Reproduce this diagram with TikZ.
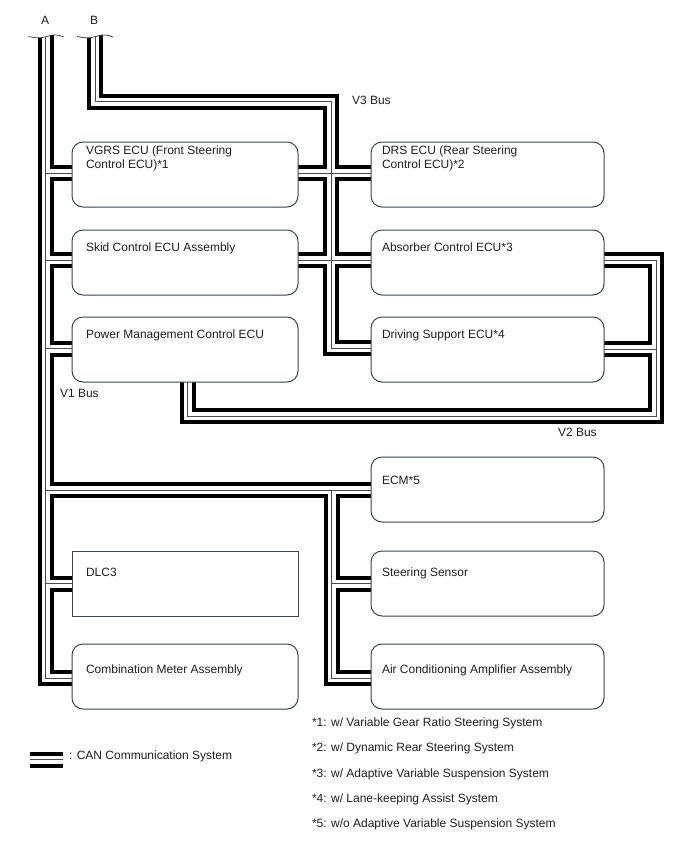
\documentclass[tikz,border=0pt]{standalone}
\usepackage{fontspec}
\setmainfont{Liberation Sans}
\usetikzlibrary{backgrounds}
\definecolor{inktext}{HTML}{1F1F1F}
\definecolor{boxedge}{HTML}{3C444C}
\tikzset{
  x=1pt, y=-1pt,
  every node/.style={inner sep=0pt, outer sep=0pt, text=inktext, font=\fontsize{12}{14}\selectfont},
  ecu/.style={draw=boxedge, line width=1pt, fill=white, rounded corners=11pt, anchor=north west, minimum height=65pt, minimum width=#1},
  ecu/.default=226pt,
  plainbox/.style={draw=boxedge, line width=1pt, fill=white, anchor=north west, minimum height=65pt, minimum width=226pt},
  txt/.style={anchor=base west},
  txttwo/.style={anchor=north west, align=left},
  canouter/.style={draw=black, line width=16pt, miter limit=10},
  caninner/.style={draw=white, line width=8pt, miter limit=10},
  cancentre/.style={draw=black!70, line width=0.8pt},
  breakline/.style={draw=black!80, line width=0.7pt}
}
% All CAN cable runs; drawn once per layer so junctions merge cleanly
\newcommand{\canroutes}[1]{%
  % V1 bus, line A
  \draw[#1] (topA) -- (cornerA) -- (combo.west |- cornerA);
  \draw[#1] (jA1) -- (vgrs.west |- jA1);
  \draw[#1] (jA2) -- (skid.west |- jA2);
  \draw[#1] (jA3) -- (pmc.west |- jA3);
  \draw[#1] (jA4) -- (ecm.west |- jA4);
  \draw[#1] (jA5) -- (dlc.west |- jA5);
  % V1 bus, branch to the lower right column
  \draw[#1] (jE1) -- (cornerE) -- (aircon.west |- cornerE);
  \draw[#1] (jE2) -- (steer.west |- jE2);
  % V3 bus, line B
  \draw[#1] (topB) -- (cornerB1) -- (cornerB2) -- (cornerB3) -- (drive.west |- cornerB3);
  \draw[#1] (vgrs.east |- jB1) -- (drs.west |- jB1);
  \draw[#1] (skid.east |- jB2) -- (absorb.west |- jB2);
  % V2 bus
  \draw[#1] (pmc.south -| cornerV1) -- (cornerV1) -- (cornerV2) -- (cornerV3) -- (absorb.east |- cornerV3);
  \draw[#1] (jV) -- (drive.east |- jV);
  % Legend sample
  \draw[#1] (keyL) -- (keyR);
}
\begin{document}
\begin{tikzpicture}
\useasboundingbox (0,0) rectangle (688,852);

% Left column
\node[ecu] (vgrs) at (72,142) {};
\node[ecu] (skid) at (72,230) {};
\node[ecu] (pmc) at (72,317) {};
\node[plainbox] (dlc) at (72,551) {};
\node[ecu] (combo) at (72,644) {};
% Right column
\node[ecu=233pt] (drs) at (371,142) {};
\node[ecu=233pt] (absorb) at (371,230) {};
\node[ecu=233pt] (drive) at (371,317) {};
\node[ecu=233pt] (ecm) at (371,457) {};
\node[ecu=233pt] (steer) at (371,551) {};
\node[ecu=233pt] (aircon) at (371,644) {};

% Box captions
\node[txttwo] (vgrsT) at (86,146) {VGRS ECU (Front Steering\\Control ECU)*1};
\node[txttwo] (drsT) at (382,146) {DRS ECU (Rear Steering\\Control ECU)*2};
\node[txt] (skidT) at (86,251) {Skid Control ECU Assembly};
\node[txt] (absorbT) at (382,251) {Absorber Control ECU*3};
\node[txt] (pmcT) at (86,338) {Power Management Control ECU};
\node[txt] (driveT) at (382,338) {Driving Support ECU*4};
\node[txt] (ecmT) at (382,484) {ECM*5};
\node[txt] (dlcT) at (86,576) {DLC3};
\node[txt] (steerT) at (382,576) {Steering Sensor};
\node[txt] (comboT) at (86,673) {Combination Meter Assembly};
\node[txt] (airconT) at (382,673) {Air Conditioning Amplifier Assembly};

% Cable routing points
\coordinate (topA) at (45.5,33);
\coordinate (cornerA) at (45.5,678);
\coordinate (jA1) at (45.5,173);
\coordinate (jA2) at (45.5,260);
\coordinate (jA3) at (45.5,348.5);
\coordinate (jA4) at (45.5,490);
\coordinate (jA5) at (45.5,583.5);
\coordinate (jE1) at (331.5,490);
\coordinate (cornerE) at (331.5,678);
\coordinate (jE2) at (331.5,583.5);
\coordinate (topB) at (95.3,33);
\coordinate (cornerB1) at (95.3,101.5);
\coordinate (cornerB2) at (331,101.5);
\coordinate (cornerB3) at (331,348);
\coordinate (jB1) at (331,173);
\coordinate (jB2) at (331,260);
\coordinate (cornerV1) at (187.5,416);
\coordinate (cornerV2) at (656,416);
\coordinate (cornerV3) at (656,260);
\coordinate (jV) at (656,349);
\coordinate (keyL) at (30,759.5);
\coordinate (keyR) at (63,759.5);

\begin{pgfonlayer}{background}
  \fill[white] (0,0) rectangle (688,852);
  \canroutes{canouter}
  \canroutes{caninner}
  \canroutes{cancentre}
  % Break marks where lines A and B run off the sheet
  \fill[white] (25,37) .. controls (33,37.5) and (40,39) .. (47,36.5)
     .. controls (53,34) and (58,34.5) .. (65,37) -- (65,28) -- (25,28) -- cycle;
  \fill[white] (75,37) .. controls (82,37.5) and (89,39) .. (96,36.5)
     .. controls (102,34) and (107,34.5) .. (114,37) -- (114,28) -- (75,28) -- cycle;
  \draw[breakline] (28.5,36.5) .. controls (33,37.5) and (40,39) .. (47,36.5)
     .. controls (53,34) and (58,34.5) .. (64,37);
  \draw[breakline] (77,36.5) .. controls (82,37.5) and (89,39) .. (96,36.5)
     .. controls (102,34) and (107,34.5) .. (113,37);
\end{pgfonlayer}

% Line and bus names
\node[txt] (lineA) at (41,24) {A};
\node[txt] (lineB) at (90,24) {B};
\node[txt] (busV3) at (352,104) {V3 Bus};
\node[txt] (busV1) at (60,397) {V1 Bus};
\node[txt] (busV2) at (558,436) {V2 Bus};

% Legend and footnotes
\node[txt] (keyT) at (69,759) {: CAN Communication System};
\node[txt] (note1) at (312,726) {*1: w/ Variable Gear Ratio Steering System};
\node[txt] (note2) at (312,751) {*2: w/ Dynamic Rear Steering System};
\node[txt] (note3) at (312,777) {*3: w/ Adaptive Variable Suspension System};
\node[txt] (note4) at (312,802) {*4: w/ Lane-keeping Assist System};
\node[txt] (note5) at (312,827) {*5: w/o Adaptive Variable Suspension System};
\end{tikzpicture}
\end{document}
